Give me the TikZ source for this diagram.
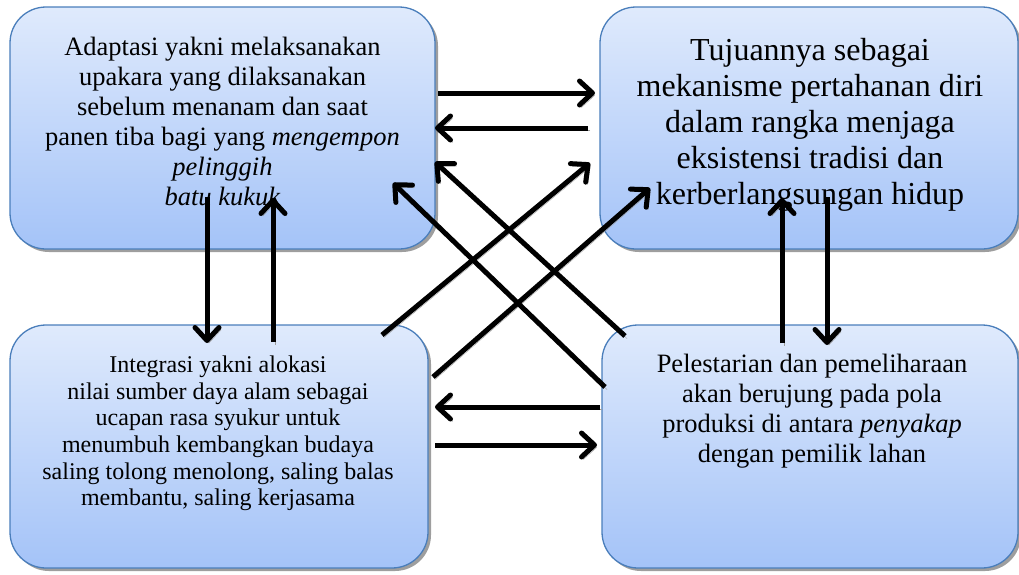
\documentclass[tikz,border=0pt]{standalone}
\usepackage{fontspec}
\setmainfont{Liberation Serif}
\usetikzlibrary{arrows.meta,shadows}
\definecolor{boxtop}{HTML}{DFEAFC}
\definecolor{boxbot}{HTML}{A4C3F8}
\definecolor{boxline}{HTML}{4A7EBB}
\definecolor{shadowgray}{HTML}{9E9E9E}
\tikzset{
 box/.style={rectangle, rounded corners=36pt, draw=boxline, line width=1.3pt,
   top color=boxtop, bottom color=boxbot,
   drop shadow={shadow xshift=3pt, shadow yshift=-3pt, fill=shadowgray, opacity=1},
   inner sep=0pt},
 lbl/.style={anchor=north, align=center, inner sep=0pt, text=black},
 arr/.style={line width=5pt, -{Straight Barb[length=13pt,width=24pt,round]},
   preaction={draw=shadowgray, transform canvas={shift={(2pt,-2.5pt)}}}},
}
\begin{document}
\begin{tikzpicture}[x=1pt,y=-1pt]
\useasboundingbox (0,0) rectangle (1019,574);
% boxes
\node[box, minimum width=425pt, minimum height=242pt] (b1) at (222.5,128) {};
\node[box, minimum width=418pt, minimum height=242pt] (b2) at (809,128) {};
\node[box, minimum width=418pt, minimum height=243pt] (b3) at (219,446.5) {};
\node[box, minimum width=416pt, minimum height=243pt] (b4) at (810,446.5) {};
% texts
\node[lbl, font=\fontsize{26.5}{30}\selectfont] (t1) at (222.5,36.7)
 {Adaptasi yakni melaksanakan\\upakara yang dilaksanakan\\sebelum menanam dan saat\\panen tiba bagi yang \textit{mengempon}\\\textit{pelinggih}\\\textit{batu kukuk}};
\node[lbl, font=\fontsize{32}{36}\selectfont] (t2) at (810,38)
 {Tujuannya sebagai\\mekanisme pertahanan diri\\dalam rangka menjaga\\eksistensi tradisi dan\\kerberlangsungan hidup};
\node[lbl, font=\fontsize{24}{26.7}\selectfont] (t3) at (218,355.5)
 {Integrasi yakni alokasi\\nilai sumber daya alam sebagai\\ucapan rasa syukur untuk\\menumbuh kembangkan budaya\\saling tolong menolong, saling balas\\membantu, saling kerjasama};
\node[lbl, font=\fontsize{26.5}{30}\selectfont] (t4) at (812,353.7)
 {Pelestarian dan pemeliharaan\\akan berujung pada pola\\produksi di antara \textit{penyakap}\\dengan pemilik lahan};
% arrow end points
\coordinate (h1s) at (438,93);  \coordinate (h1e) at (595,93);
\coordinate (h2s) at (588,128); \coordinate (h2e) at (435,128);
\coordinate (d1s) at (382,335); \coordinate (d1e) at (590,163);
\coordinate (d2s) at (433,377); \coordinate (d2e) at (650,188);
\coordinate (d3s) at (625,336); \coordinate (d3e) at (435,162);
\coordinate (d4s) at (605,387); \coordinate (d4e) at (393,183);
\coordinate (h3s) at (600,407); \coordinate (h3e) at (435,407);
\coordinate (h4s) at (435,445); \coordinate (h4e) at (597,445);
\coordinate (v1s) at (207,197); \coordinate (v1e) at (207,343);
\coordinate (v2s) at (273,342); \coordinate (v2e) at (273,198);
\coordinate (v3s) at (782,343); \coordinate (v3e) at (782,198);
\coordinate (v4s) at (827,197); \coordinate (v4e) at (827,345);
% arrows
\foreach \a in {h1,h2,d1,d2,d3,d4,h3,h4,v1,v2,v3,v4}
  \draw[arr] (\a s) -- (\a e);
\end{tikzpicture}
\end{document}
